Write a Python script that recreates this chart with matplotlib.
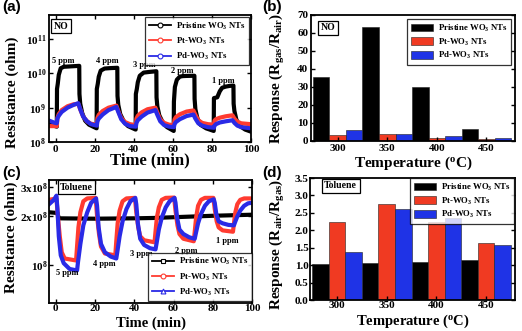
import numpy as np
import matplotlib
matplotlib.use('Agg')
import matplotlib.pyplot as plt
from matplotlib.lines import Line2D
from matplotlib.patches import Patch

plt.rcParams['font.family'] = 'Liberation Serif'
plt.rcParams['font.weight'] = 'bold'
plt.rcParams['axes.labelweight'] = 'bold'
plt.rcParams['mathtext.fontset'] = 'custom'
plt.rcParams['mathtext.rm'] = 'Liberation Serif:bold'
plt.rcParams['mathtext.bf'] = 'Liberation Serif:bold'
plt.rcParams['mathtext.it'] = 'Liberation Serif:bold'
plt.rcParams['mathtext.default'] = 'bf'

series_names = ['Pristine WO$_3$ NTs', 'Pt-WO$_3$ NTs', 'Pd-WO$_3$ NTs']
line_colors = ['black', '#ff3b30', '#2a2ae6']
bar_colors = ['black', '#f03a22', '#1f33e6']

# (a) NO, resistance vs time (at key times)
t_no_pristine = [-3.5, 0.5, 0.6, 1.0, 1.5, 2.5, 4, 8, 12, 12.1, 12.5, 13.5, 15, 17, 20.9,
                 21.0, 21.5, 22, 23, 25, 28, 31.5, 31.6, 32, 33, 35, 37, 40.9,
                 41.0, 41.5, 42, 43, 45, 48, 51.5, 51.6, 52, 53, 55, 57, 60.4,
                 60.5, 61, 62, 63.5, 65, 67, 71, 71.1, 71.5, 72.5, 74, 77, 80.9,
                 81.0, 82.7, 84, 85.2, 87, 89, 91, 91.1, 91.5, 92.5, 94, 97, 100]
r_no_pristine = [3.3e8, 2.8e8, 3.5e9, 5e9, 9e9, 1.4e10, 1.55e10, 1.6e10, 1.65e10, 2.5e9, 1.3e9, 7e8, 4.2e8, 3.2e8, 2.5e8,
                 3.5e9, 5e9, 8e9, 1.2e10, 1.38e10, 1.42e10, 1.45e10, 2.2e9, 1.2e9, 6.5e8, 3.8e8, 2.9e8, 2.3e8,
                 2.5e9, 3.5e9, 5.5e9, 8.5e9, 1.05e10, 1.1e10, 1.15e10, 2e9, 1.1e9, 6e8, 3.5e8, 2.7e8, 2.1e8,
                 1.5e9, 4e9, 6.5e9, 8e9, 8.3e9, 8.4e9, 8.5e9, 1.8e9, 9e8, 5e8, 3.2e8, 2.5e8, 2.1e8,
                 1.9e9, 2.0e9, 3.0e9, 3.8e9, 4.1e9, 4.3e9, 4.4e9, 1.3e9, 8e8, 4.5e8, 3e8, 2.3e8, 2.0e8]
t_no_pt = [-3.5, 0.5, 0.8, 1.5, 3, 6, 9, 11.5, 12.5, 14, 16, 18, 21,
           21.3, 22, 24, 27, 31, 32, 33.5, 35.5, 38, 41,
           41.3, 42, 44, 47, 51, 52, 53.5, 55.5, 58, 60.5,
           60.8, 61.5, 63.5, 67, 70.5, 71.5, 73, 75, 78, 81,
           81.3, 82, 84, 87, 90.5, 91.5, 93, 95, 100]
r_no_pt = [2.9e8, 2.9e8, 5e8, 6.5e8, 8.5e8, 1.1e9, 1.25e9, 1.3e9, 9e8, 5.5e8, 4e8, 3.4e8, 3.2e8,
           5e8, 6.2e8, 8e8, 1.0e9, 1.15e9, 8e8, 5e8, 3.8e8, 3.3e8, 3.1e8,
           4.8e8, 5.8e8, 7.3e8, 9e8, 1.0e9, 7.2e8, 4.6e8, 3.6e8, 3.2e8, 3.1e8,
           4.5e8, 5.3e8, 6.4e8, 7.7e8, 8.3e8, 6.2e8, 4.3e8, 3.6e8, 3.3e8, 3.2e8,
           4.2e8, 4.6e8, 5.1e8, 5.6e8, 6e8, 4.8e8, 3.9e8, 3.5e8, 3.3e8]
t_no_pd = [-3.5, -1, 0.5, 0.8, 1.5, 3, 6, 9, 11.5, 12.5, 14, 16, 18, 21,
           21.3, 22, 24, 27, 31, 32, 33.5, 35.5, 38, 41,
           41.3, 42, 44, 47, 51, 52, 53.5, 55.5, 58, 60.5,
           60.8, 61.5, 63.5, 67, 70.5, 71.5, 73, 75, 78, 81,
           81.3, 82, 84, 87, 90.5, 91.5, 93, 95, 100]
r_no_pd = [4.2e8, 3.7e8, 3.5e8, 4.8e8, 5.8e8, 7.5e8, 1.0e9, 1.2e9, 1.35e9, 9e8, 5.5e8, 4e8, 3.3e8, 3.0e8,
           4.0e8, 4.8e8, 6.3e8, 8.5e8, 1.05e9, 7.5e8, 4.6e8, 3.4e8, 2.9e8, 2.8e8,
           3.6e8, 4.3e8, 5.5e8, 7.2e8, 8.5e8, 6.2e8, 4e8, 3.1e8, 2.8e8, 2.7e8,
           3.3e8, 3.8e8, 4.6e8, 5.7e8, 6.3e8, 4.8e8, 3.5e8, 3e8, 2.7e8, 2.6e8,
           3.0e8, 3.3e8, 3.7e8, 4.0e8, 4.3e8, 3.6e8, 3.0e8, 2.7e8, 2.5e8]

# (c) toluene, resistance vs time
t_tol_pristine = [-3.5, 0.8, 1.5, 20, 40, 50, 60, 80, 100]
r_tol_pristine = [2.1e8, 2.08e8, 1.93e8, 1.92e8, 1.93e8, 1.94e8, 1.96e8, 2.0e8, 2.03e8]
t_tol_pt = [-3.5, 0.3, 1, 2, 3, 4.5, 10.3, 10.8, 11.5, 12.5, 14, 16, 20.3,
            21, 22, 23, 25, 30.3, 30.8, 31.5, 32.5, 34, 36, 40.3,
            41, 42, 43, 45, 50.3, 50.8, 51.5, 52.5, 54, 56, 60.3,
            61, 62, 63, 65, 70.3, 70.8, 71.5, 72.5, 74, 76, 80.3,
            81, 82, 83, 85, 90.3, 90.8, 91.5, 92.5, 94, 96, 100]
r_tol_pt = [2.5e8, 2.55e8, 2.0e8, 1.5e8, 1.2e8, 1.1e8, 1.07e8, 1.3e8, 1.7e8, 2.1e8, 2.45e8, 2.55e8, 2.57e8,
            2.0e8, 1.55e8, 1.3e8, 1.18e8, 1.15e8, 1.4e8, 1.8e8, 2.15e8, 2.45e8, 2.55e8, 2.57e8,
            2.1e8, 1.7e8, 1.5e8, 1.42e8, 1.38e8, 1.6e8, 1.95e8, 2.25e8, 2.5e8, 2.57e8, 2.58e8,
            2.15e8, 1.75e8, 1.55e8, 1.45e8, 1.4e8, 1.6e8, 1.95e8, 2.3e8, 2.5e8, 2.57e8, 2.57e8,
            2.2e8, 1.85e8, 1.7e8, 1.63e8, 1.6e8, 1.8e8, 2.1e8, 2.35e8, 2.5e8, 2.55e8, 2.55e8]
t_tol_pd = [-3.5, -1, 0.3, 0.8, 1.5, 2.5, 4, 7, 10.8, 11.3, 12.5, 14, 16, 18, 20.5,
            21, 21.8, 23, 25, 28, 30.8, 31.3, 32.5, 34, 36, 38, 40.5,
            41, 41.8, 43, 45, 48, 50.8, 51.3, 52.5, 54, 56, 58, 60.5,
            61, 61.8, 63, 65, 68, 70.8, 71.3, 72.5, 74, 76, 78, 80.5,
            81, 81.8, 83, 85, 88, 90.8, 91.3, 92.5, 94, 96, 98, 100]
r_tol_pd = [2.35e8, 2.5e8, 2.65e8, 2.2e8, 1.5e8, 1.15e8, 1.03e8, 9.5e7, 9.3e7, 1.05e8, 1.35e8, 1.75e8, 2.1e8, 2.4e8, 2.55e8,
            2.3e8, 1.7e8, 1.35e8, 1.2e8, 1.13e8, 1.1e8, 1.2e8, 1.5e8, 1.85e8, 2.2e8, 2.45e8, 2.57e8,
            2.35e8, 1.8e8, 1.45e8, 1.33e8, 1.27e8, 1.25e8, 1.35e8, 1.65e8, 1.95e8, 2.25e8, 2.45e8, 2.57e8,
            2.4e8, 1.95e8, 1.65e8, 1.55e8, 1.48e8, 1.45e8, 1.55e8, 1.8e8, 2.05e8, 2.3e8, 2.45e8, 2.52e8,
            2.4e8, 2.05e8, 1.85e8, 1.8e8, 1.76e8, 1.75e8, 1.82e8, 1.98e8, 2.15e8, 2.3e8, 2.38e8, 2.4e8]

ppm_labels = ['5 ppm', '4 ppm', '3 ppm', '2 ppm', '1 ppm']
ppm_pos_no = [(3.8, 2.3e10), (26.4, 2.3e10), (45.4, 1.7e10), (65, 1.2e10), (85.6, 6.1e9)]
ppm_pos_tol = [(5.6, 9.0e7), (24.5, 1.02e8), (43.4, 1.165e8), (66.5, 1.23e8), (87.6, 1.41e8)]

# (b), (d) responses
temps = ['300', '350', '400', '450']
resp_no = [[35.6, 63.5, 30.1, 6.7],
           [3.2, 4.1, 1.9, 1.1],
           [5.9, 3.7, 2.6, 1.7]]
resp_tol = [[1.04, 1.05, 1.09, 1.14],
            [2.25, 2.76, 2.25, 1.63],
            [1.39, 2.62, 2.36, 1.57]]

W, H = 522, 331
fig = plt.figure(figsize=(W / 100, H / 100), dpi=100)


def box(left, top, right, bottom):
    return [left / W, 1 - bottom / H, (right - left) / W, (bottom - top) / H]


ax_a = fig.add_axes(box(49, 15, 251, 142))
ax_b = fig.add_axes(box(311, 15, 515, 141))
ax_c = fig.add_axes(box(49, 180, 252, 303))
ax_d = fig.add_axes(box(310, 178, 515, 300))

tick_fs = 8
ylab_fs = 11
leg_fs = 6.3


def style(ax, pad=2):
    for s in ax.spines.values():
        s.set_linewidth(1.3)
    ax.tick_params(direction='in', length=3, width=1, labelsize=tick_fs, pad=pad,
                   top=True, right=True)
    ax.tick_params(which='minor', direction='in', length=1.5, width=0.8, top=True, right=True)
    for lb in ax.get_xticklabels() + ax.get_yticklabels():
        lb.set_fontweight('bold')


def xlabel_bottom(ax, text, size, bottom_px, spine_px, height_px):
    # put the bottom of the x label at a given pixel row
    ax.set_xlabel(text, fontsize=size)
    ax.xaxis.label.set_va('bottom')
    ax.xaxis.set_label_coords(0.5, -(bottom_px - spine_px) / height_px)


def tag(ax, text, x, y):
    ax.text(x, y, text, transform=ax.transAxes, fontsize=7, fontweight='bold',
            ha='center', va='center',
            bbox=dict(boxstyle='square,pad=0.25', fc='white', ec='black', lw=0.9))


# ---- (a)
for t, r, c in zip([t_no_pristine, t_no_pt, t_no_pd], [r_no_pristine, r_no_pt, r_no_pd], line_colors):
    ax_a.plot(t, r, color=c, lw=3, solid_joinstyle='round')
ax_a.set_yscale('log')
ax_a.set_xlim(-3.5, 100)
ax_a.set_ylim(1e8, 5e11)
ax_a.set_xticks([0, 20, 40, 60, 80, 100])
ax_a.set_yticks([1e8, 1e9, 1e10, 1e11])
ax_a.set_yticklabels([r'$10^{8}$', r'$10^{9}$', r'$10^{10}$', r'$10^{11}$'])
ax_a.yaxis.set_minor_locator(matplotlib.ticker.NullLocator())
for lab, (x, y) in zip(ppm_labels, ppm_pos_no):
    ax_a.text(x, y, lab, fontsize=6, fontweight='bold', ha='center', va='center')
style(ax_a)
ax_a.set_ylabel('Resistance (ohm)', fontsize=ylab_fs)
ax_a.set_xlabel('Time (min)', fontsize=12)
ax_a.yaxis.set_label_coords(-0.15, 0.39)
ax_a.xaxis.set_label_coords(0.5, -0.085)
tag(ax_a, 'NO', 0.06, 0.91)
h_a = [Line2D([0], [0], color=c, lw=1.3, marker='o', ms=3.5, mfc='white', mec=c, mew=0.8)
       for c in line_colors]
leg = ax_a.legend(h_a, series_names, loc='upper right', bbox_to_anchor=(0.99, 0.985),
                  borderaxespad=0, fontsize=leg_fs, frameon=True, fancybox=False,
                  edgecolor='black', handlelength=2.6, labelspacing=0.45, borderpad=0.4,
                  handletextpad=0.5)
leg.get_frame().set_linewidth(0.9)

# ---- (c)
for t, r, c in zip([t_tol_pristine, t_tol_pt, t_tol_pd], [r_tol_pristine, r_tol_pt, r_tol_pd], line_colors):
    ax_c.plot(t, r, color=c, lw=3, solid_joinstyle='round')
ax_c.set_yscale('log')
ax_c.set_xlim(-3.5, 100)
ax_c.set_ylim(5.9e7, 3.3e8)
ax_c.set_xticks([0, 20, 40, 60, 80, 100])
ax_c.yaxis.set_minor_locator(matplotlib.ticker.NullLocator())
ax_c.set_yticks([1e8, 2e8, 3e8])
ax_c.set_yticklabels([r'$10^{8}$', r'$2x10^{8}$', r'$3x10^{8}$'])
for lab, (x, y) in zip(ppm_labels, ppm_pos_tol):
    ax_c.text(x, y, lab, fontsize=6, fontweight='bold', ha='center', va='center')
style(ax_c, pad=1)
ax_c.set_ylabel('Resistance (ohm)', fontsize=ylab_fs)
ax_c.yaxis.set_label_coords(-0.153, 0.53)
xlabel_bottom(ax_c, 'Time (min)', 10.5, 330, 303, 123)
tag(ax_c, 'Toluene', 0.135, 0.94)
h_c = [Line2D([0], [0], color=c, lw=1.3, marker=m, ms=3.5, mfc='white', mec=c, mew=0.8)
       for c, m in zip(line_colors, ['s', 'o', '^'])]
leg = ax_c.legend(h_c, series_names, loc='lower right', bbox_to_anchor=(1.0, 0.015),
                  borderaxespad=0, fontsize=leg_fs, frameon=True, fancybox=False,
                  edgecolor='black', handlelength=2.6, labelspacing=0.45, borderpad=0.4,
                  handletextpad=0.5)
leg.get_frame().set_linewidth(0.9)

# ---- bars
x = np.arange(len(temps))
w = 1/3
for ax, resp in [(ax_b, resp_no), (ax_d, resp_tol)]:
    for i, (vals, c) in enumerate(zip(resp, bar_colors)):
        ax.bar(x + (i - 1) * w, vals, width=w, color=c, edgecolor='#202020', lw=0.4)
    ax.set_xticks(x)
    ax.set_xticklabels(temps)
    ax.set_xlim(-0.54, 3.58)
    style(ax, pad=1 if ax is ax_d else 2)
    ax.tick_params(top=False)

ax_b.set_ylim(0, 70)
ax_b.set_yticks(range(0, 71, 10))
ax_b.set_ylabel('Response (R$_{gas}$/R$_{air}$)', fontsize=ylab_fs)
ax_b.yaxis.set_label_coords(-0.12, 0.5)
ax_b.set_xlabel('Temperature ($^{o}$C)', fontsize=11)
ax_b.xaxis.set_label_coords(0.5, -0.11)
tag(ax_b, 'NO', 0.083, 0.90)

ax_d.set_ylim(0, 3.5)
ax_d.set_yticks(np.arange(0, 3.51, 0.5))
ax_d.set_yticklabels(['%.1f' % v for v in np.arange(0, 3.51, 0.5)])
ax_d.set_ylabel('Response (R$_{air}$/R$_{gas}$)', fontsize=ylab_fs)
ax_d.yaxis.set_label_coords(-0.112, 0.46)
xlabel_bottom(ax_d, 'Temperature ($^{o}$C)', 10.5, 330, 300, 122)
tag(ax_d, 'Toluene', 0.15, 0.935)

for ax, anchor in [(ax_b, (0.98, 0.968)), (ax_d, (0.995, 1.0))]:
    hb = [Patch(facecolor=c, edgecolor='#202020', lw=0.4) for c in bar_colors]
    leg = ax.legend(hb, series_names, loc='upper right', bbox_to_anchor=anchor,
                    borderaxespad=0, fontsize=leg_fs, frameon=True, fancybox=False,
                    edgecolor='black', handlelength=2.6, handleheight=1.0,
                    labelspacing=0.3, borderpad=0.4, handletextpad=0.5)
    leg.get_frame().set_linewidth(0.9)
for ax in (ax_b, ax_d):
    for lb in ax.get_xticklabels() + ax.get_yticklabels():
        lb.set_fontweight('bold')

for lab, (fx, fy) in zip(['(a)', '(b)', '(c)', '(d)'],
                         [(0.005, 1.0), (0.502, 1.0), (0.005, 0.50), (0.502, 0.50)]):
    fig.text(fx, fy, lab, fontsize=11, fontweight='bold', family='Liberation Sans',
             ha='left', va='top')

fig.savefig('out.png', dpi=100)
